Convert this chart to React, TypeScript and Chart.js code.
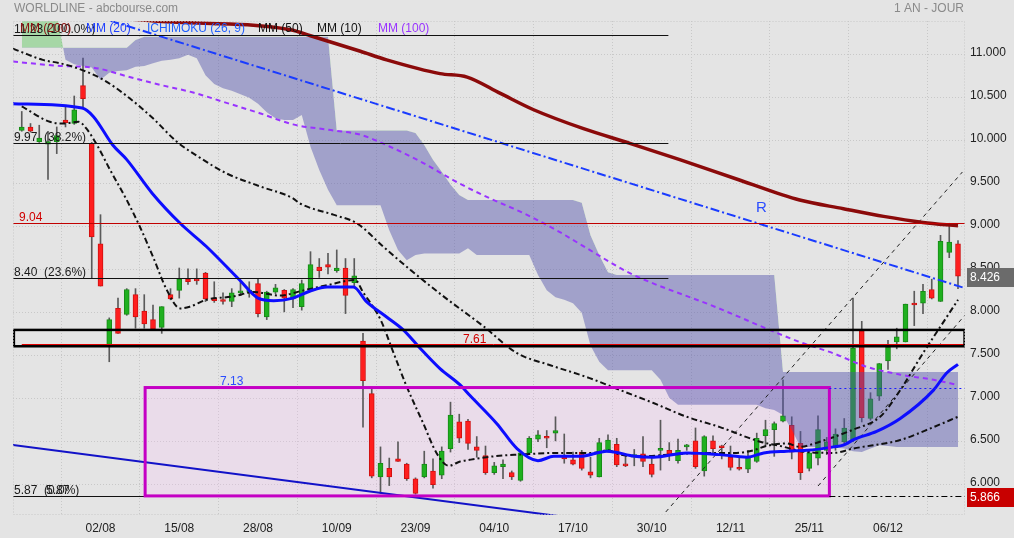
import { useEffect, useRef } from 'react';
import { Chart, registerables } from 'chart.js';

Chart.register(...registerables);

// ---------- candles (trading days, index 0 = 22/07) ----------
const OPEN = [10.12, 10.16, 9.99, 9.96, 9.99, 10.24, 10.20, 10.64, 9.97, 8.80,
  7.62, 8.05, 7.98, 8.21, 8.02, 7.92, 7.83, 8.21, 8.26, 8.39,
  8.39, 8.46, 8.17, 8.15, 8.13, 8.23, 8.24, 8.34, 7.95, 8.24,
  8.26, 8.17, 8.07, 8.27, 8.53, 8.56, 8.49, 8.52, 8.35, 7.67,
  7.06, 6.09, 6.19, 6.30, 6.24, 6.07, 6.09, 6.16, 6.11, 6.42,
  6.73, 6.74, 6.44, 6.34, 6.14, 6.21, 6.14, 6.05, 6.37, 6.53,
  6.56, 6.60, 6.33, 6.29, 6.38, 6.15, 6.09, 6.40, 6.47, 6.23,
  6.32, 6.36, 6.24, 6.40, 6.40, 6.28, 6.44, 6.51, 6.16, 6.51,
  6.45, 6.32, 6.20, 6.18, 6.27, 6.57, 6.64, 6.74, 6.69, 6.48,
  6.19, 6.31, 6.40, 6.43, 6.50, 6.52, 7.79, 6.77, 7.03, 7.44,
  7.66, 7.66, 8.11, 8.11, 8.27, 8.13, 8.70, 8.80];
const HIGH = [10.34, 10.20, 10.18, 10.11, 10.16, 10.40, 10.52, 10.96, 9.98, 9.14,
  7.94, 8.17, 8.28, 8.28, 8.21, 8.09, 8.07, 8.28, 8.52, 8.51,
  8.51, 8.47, 8.36, 8.23, 8.28, 8.36, 8.36, 8.40, 8.25, 8.33,
  8.27, 8.28, 8.38, 8.71, 8.63, 8.69, 8.73, 8.63, 8.63, 7.76,
  7.11, 6.44, 6.31, 6.50, 6.25, 6.08, 6.39, 6.30, 6.44, 6.96,
  6.82, 6.76, 6.56, 6.45, 6.26, 6.29, 6.16, 6.37, 6.56, 6.63,
  6.63, 6.79, 6.59, 6.38, 6.40, 6.32, 6.54, 6.58, 6.54, 6.34,
  6.41, 6.56, 6.32, 6.75, 6.49, 6.53, 6.47, 6.66, 6.57, 6.57,
  6.46, 6.45, 6.32, 6.40, 6.60, 6.75, 6.73, 7.22, 6.79, 6.62,
  6.40, 6.80, 6.55, 6.65, 6.77, 8.17, 7.90, 7.07, 7.41, 7.68,
  7.82, 8.10, 8.25, 8.33, 8.39, 8.90, 9.04, 8.84];
const LOW = [10.11, 10.10, 9.98, 9.55, 9.85, 10.16, 10.19, 10.38, 8.40, 8.31,
  7.43, 7.76, 7.97, 7.82, 7.82, 7.80, 7.76, 8.15, 8.17, 8.33,
  8.33, 8.13, 8.12, 8.10, 8.07, 8.20, 8.18, 7.95, 7.92, 8.22,
  8.01, 8.06, 8.03, 8.26, 8.41, 8.45, 8.47, 7.99, 8.30, 6.67,
  6.08, 5.90, 5.99, 6.27, 6.05, 5.89, 6.08, 5.96, 6.07, 6.38,
  6.49, 6.41, 6.32, 6.12, 6.12, 6.07, 6.06, 6.04, 6.36, 6.50,
  6.43, 6.51, 6.25, 6.23, 6.17, 6.08, 6.09, 6.38, 6.21, 6.21,
  6.22, 6.21, 6.09, 6.17, 6.28, 6.25, 6.40, 6.19, 6.10, 6.37,
  6.30, 6.17, 6.17, 6.14, 6.26, 6.45, 6.33, 6.73, 6.30, 6.06,
  6.16, 6.23, 6.35, 6.40, 6.48, 6.50, 6.73, 6.75, 6.98, 7.34,
  7.58, 7.66, 7.85, 7.99, 8.16, 8.13, 8.64, 8.28];
const CLOSE = [10.16, 10.11, 10.03, 9.99, 10.06, 10.21, 10.36, 10.49, 8.88, 8.31,
  7.92, 7.76, 8.27, 7.95, 7.87, 7.81, 8.07, 8.16, 8.39, 8.36,
  8.37, 8.16, 8.14, 8.13, 8.23, 8.25, 8.26, 7.99, 8.24, 8.29,
  8.17, 8.27, 8.34, 8.56, 8.49, 8.53, 8.52, 8.20, 8.43, 7.21,
  6.10, 6.25, 6.09, 6.27, 6.07, 5.90, 6.24, 6.00, 6.39, 6.81,
  6.54, 6.48, 6.40, 6.14, 6.22, 6.24, 6.09, 6.37, 6.54, 6.58,
  6.54, 6.63, 6.30, 6.24, 6.19, 6.11, 6.49, 6.52, 6.23, 6.22,
  6.35, 6.27, 6.12, 6.42, 6.35, 6.40, 6.46, 6.21, 6.56, 6.42,
  6.43, 6.20, 6.18, 6.32, 6.54, 6.64, 6.71, 6.80, 6.38, 6.14,
  6.37, 6.64, 6.50, 6.59, 6.66, 7.59, 6.78, 7.00, 7.41, 7.60,
  7.72, 8.10, 8.09, 8.25, 8.17, 8.83, 8.82, 8.426];

// ---------- Ichimoku cloud (senkou spans, per day) ----------
const SPAN_A = [11.75, 11.75, 11.72, 11.65, 11.46, 10.94, 10.89, 10.87, 10.85, 10.71,
  10.79, 10.81, 10.82, 10.86, 10.87, 10.90, 10.93, 10.94, 10.96, 11.00,
  10.96, 10.76, 10.66, 10.61, 10.58, 10.54, 10.50, 10.43, 10.33, 10.26,
  10.24, 10.24, 10.30, 9.93, 9.66, 9.43, 9.25, 9.25, 9.25, 9.25,
  9.25, 9.25, 8.96, 8.73, 8.61, 8.67, 8.69, 8.69, 8.69, 8.69,
  8.69, 8.75, 8.67, 8.67, 8.67, 8.67, 8.67, 8.67, 8.67, 8.44,
  8.26, 8.18, 8.15, 8.11, 8.00, 7.62, 7.43, 7.33, 7.33, 7.33,
  7.33, 7.33, 7.33, 7.22, 7.01, 6.93, 6.93, 6.93, 6.93, 6.93,
  6.93, 6.93, 6.93, 6.93, 6.93, 6.89, 6.87, 6.81, 6.64, 6.44,
  6.44, 6.44, 6.43, 6.43, 6.42, 6.39, 6.38, 6.42, 6.46, 6.45,
  6.44, 6.44, 6.44, 6.44, 6.44, 6.44, 6.44, 6.44];
const SPAN_B = [11.08, 11.08, 11.08, 11.08, 11.08, 11.08, 11.08, 11.08, 11.08, 11.08,
  11.08, 11.08, 11.08, 11.17, 11.21, 11.21, 11.21, 11.21, 11.21, 11.21,
  11.21, 11.21, 11.21, 11.21, 11.21, 11.21, 11.21, 11.21, 11.21, 11.21,
  11.21, 11.21, 11.21, 11.21, 11.21, 11.21, 10.12, 10.12, 10.12, 10.12,
  10.12, 10.12, 10.12, 10.12, 10.12, 10.09, 9.95, 9.78, 9.64, 9.49,
  9.37, 9.31, 9.31, 9.31, 9.31, 9.31, 9.31, 9.31, 9.31, 9.31,
  9.31, 9.31, 9.31, 9.31, 9.28, 8.90, 8.67, 8.47, 8.44, 8.44,
  8.44, 8.44, 8.44, 8.44, 8.44, 8.44, 8.44, 8.44, 8.44, 8.44,
  8.44, 8.44, 8.44, 8.44, 8.44, 8.44, 8.44, 7.31, 7.31, 7.31,
  7.31, 7.31, 7.31, 7.31, 7.31, 7.31, 7.31, 7.31, 7.31, 7.31,
  7.31, 7.31, 7.31, 7.31, 7.31, 7.31, 7.31, 7.31];

// ---------- moving averages (day index / value) ----------
const MM20_X = [-1, 6.9, 8.2, 10.4, 12, 14.9, 18.1, 21.1, 24.9, 27, 28.8, 31, 32.9, 34.9, 37.9, 39.4, 41.7, 43.6, 45.5, 47.8, 50.1, 51.2, 54.3, 56.6, 59, 60.8, 63.8, 66.9, 70.1, 72.2, 76, 79.8, 82.9, 84.8, 87.4, 89.7, 92.8, 93.9, 95.2, 97.7, 100.4, 104.2, 105.7, 107];
const MM20_Y = [10.43, 10.38, 10.28, 9.95, 9.78, 9.39, 9.04, 8.77, 8.38, 8.17, 8.14, 8.17, 8.25, 8.30, 8.30, 8.13, 7.95, 7.80, 7.59, 7.35, 7.16, 7.04, 6.71, 6.42, 6.28, 6.33, 6.33, 6.39, 6.33, 6.32, 6.37, 6.35, 6.32, 6.37, 6.39, 6.40, 6.44, 6.46, 6.53, 6.62, 6.77, 7.10, 7.30, 7.40];
const MM10_X = [0, 3.2, 4.8, 6.5, 7.4, 8.6, 10.1, 12, 13.5, 15, 16.6, 18.1, 19.2, 21.1, 24.2, 26.5, 29.5, 32.2, 34.9, 38.1, 39, 41, 42.5, 44, 45.9, 47.4, 48.8, 50.1, 51.2, 53.1, 55, 56.9, 60.8, 65.3, 66.9, 68.4, 70.7, 74.1, 77.9, 81.7, 83.6, 85.1, 87.4, 88.9, 91.2, 95, 98.1, 100.4, 103, 105, 107];
const MM10_Y = [10.40, 10.22, 10.20, 10.22, 10.14, 9.95, 9.66, 9.31, 9.00, 8.65, 8.26, 8.05, 8.07, 8.15, 8.19, 8.24, 8.20, 8.26, 8.32, 8.38, 8.24, 7.92, 7.53, 7.14, 6.71, 6.37, 6.22, 6.27, 6.29, 6.32, 6.34, 6.35, 6.37, 6.37, 6.40, 6.35, 6.33, 6.35, 6.37, 6.37, 6.40, 6.45, 6.48, 6.44, 6.50, 6.64, 6.79, 7.10, 7.53, 7.84, 8.15];
const MM50_X = [-1, 0, 2.4, 4.4, 6.7, 9.3, 12, 15, 17.7, 20.4, 23.4, 27.2, 31, 31.8, 35.6, 38.3, 41.3, 44.4, 48.2, 52.8, 56.6, 60.4, 64.9, 68.4, 72.2, 76, 79.8, 84.4, 86.7, 89.7, 92.8, 95, 100.4, 104.2, 107];
const MM50_Y = [11.07, 11.03, 10.94, 10.90, 10.83, 10.71, 10.52, 10.26, 9.99, 9.80, 9.62, 9.47, 9.33, 9.27, 9.14, 9.04, 8.77, 8.50, 8.19, 7.84, 7.53, 7.39, 7.24, 7.10, 6.95, 6.79, 6.67, 6.50, 6.45, 6.38, 6.37, 6.42, 6.52, 6.67, 6.79];
const MM100_X = [-1, 4.4, 8.2, 12, 15.8, 19.6, 23.4, 27.2, 31, 35.6, 38.7, 42.1, 45.9, 49.7, 53.5, 57.3, 61.1, 64.9, 69.5, 79.2, 88.9, 92.7, 96.6, 100.4, 104.2, 107];
const MM100_Y = [10.92, 10.87, 10.85, 10.75, 10.65, 10.56, 10.44, 10.32, 10.19, 10.12, 10.07, 9.93, 9.74, 9.52, 9.33, 9.16, 8.96, 8.73, 8.46, 8.07, 7.66, 7.53, 7.37, 7.28, 7.22, 7.16];
const MM200_X = [-1, 15.5, 30.7, 33, 38.7, 41.7, 47.8, 50.9, 54.7, 58.5, 64.2, 69.5, 75.2, 82.1, 88.9, 93.9, 98.5, 103, 107];
const MM200_Y = [11.53, 11.39, 11.29, 11.22, 11.04, 10.94, 10.78, 10.74, 10.55, 10.36, 10.14, 9.97, 9.78, 9.54, 9.31, 9.21, 9.12, 9.05, 9.01];

// ---------- drawn tools (day index / price) ----------
const R_LINE_X = [-1, 107.8];
const R_LINE_Y = [11.75, 8.286];
const SUPPORT_X = [-1, 107.8];
const SUPPORT_Y = [6.462, 5.02];
const CHAN_A_X = [73.6, 107.5];
const CHAN_A_Y = [5.683, 9.636];
const CHAN_B_X = [91.0, 107.8];
const CHAN_B_Y = [5.985, 7.973];

const FIB_LEVELS = [11.23, 9.97, 8.40, 5.87];
const FIB_LABELS = ['11.23 (100.0%)', '9.97  (38.2%)', '8.40  (23.6%)', '5.87  (0.0%)'];
const FIB_SPAN = [-1, 73.9];
const LEVEL_904 = 9.04;
const LEVEL_761 = 7.635;
const ZONE_Y = [7.61, 7.80];
const ZONE_X = [-0.9, 107.75];
const BOX_X = [14.1, 92.3];
const BOX_Y = [5.87, 7.13];
const LAST_PRICE = 8.426;
const SUPPORT_PRICE = 5.866;

const DATE_IDX = [9, 18, 27, 36, 45, 54, 63, 72, 81, 90, 99];
const DATE_LABELS = ['02/08', '15/08', '28/08', '10/09', '23/09', '04/10', '17/10', '30/10', '12/11', '25/11', '06/12'];
const Y_TICKS = [6, 6.5, 7, 7.5, 8, 8.5, 9, 9.5, 10, 10.5, 11];
const X_RANGE = [-1.0, 107.8];
const Y_RANGE = [5.648, 11.392];

const LEGEND_LABELS = ['MM (200)', 'MM (20)', 'ICHIMOKU (26, 9)', 'MM (50)', 'MM (10)', 'MM (100)'];

const FONT = '"Liberation Sans", Arial, sans-serif';
const BG = '#e4e4e4';
const GRID = '#c8c8c8';

const pts = (xs: number[], ys: number[]) => xs.map((x, k) => ({ x, y: ys[k] }));
const IDX = OPEN.map((_, i) => i);

const overlay = {
  id: 'overlay',
  beforeDraw(chart: any) {
    const { ctx, width, height } = chart;
    ctx.save();
    ctx.fillStyle = BG;
    ctx.fillRect(0, 0, width, height);
    ctx.restore();
  },
  beforeDatasetsDraw(chart: any) {
    const { ctx } = chart;
    const x = chart.scales.x, y = chart.scales.y;
    const x0 = x.getPixelForValue(BOX_X[0]), x1 = x.getPixelForValue(BOX_X[1]);
    const y0 = y.getPixelForValue(BOX_Y[1]), y1 = y.getPixelForValue(BOX_Y[0]);
    ctx.save();
    ctx.fillStyle = 'rgba(255,190,255,0.22)';
    ctx.fillRect(x0, y0, x1 - x0, y1 - y0);
    ctx.restore();
  },
  afterDatasetsDraw(chart: any) {
    const { ctx, chartArea } = chart;
    const x = chart.scales.x, y = chart.scales.y;
    const snap = (v: number) => Math.round(v) + 0.5;
    const hline = (v: number, a: number, b: number, color: string, w: number, dash: number[]) => {
      const py = w % 2 === 1 ? snap(y.getPixelForValue(v)) : Math.round(y.getPixelForValue(v));
      ctx.beginPath();
      ctx.strokeStyle = color;
      ctx.lineWidth = w;
      ctx.setLineDash(dash);
      ctx.moveTo(x.getPixelForValue(a), py);
      ctx.lineTo(x.getPixelForValue(b), py);
      ctx.stroke();
    };
    ctx.save();
    ctx.beginPath();
    ctx.rect(chartArea.left, chartArea.top, chartArea.right - chartArea.left, chartArea.bottom - chartArea.top);
    ctx.clip();
    FIB_LEVELS.forEach((lv) => hline(lv, FIB_SPAN[0], FIB_SPAN[1], '#111', 1, []));
    hline(LEVEL_904, X_RANGE[0], X_RANGE[1], '#c00000', 1, []);
    hline(LEVEL_761, 0, X_RANGE[1], '#e00000', 1, []);
    // black zone rectangle
    const zx0 = x.getPixelForValue(ZONE_X[0]), zx1 = x.getPixelForValue(ZONE_X[1]);
    const zy0 = y.getPixelForValue(ZONE_Y[1]), zy1 = y.getPixelForValue(ZONE_Y[0]);
    ctx.setLineDash([]);
    ctx.strokeStyle = '#000';
    ctx.lineWidth = 2.5;
    ctx.strokeRect(zx0, zy0, zx1 - zx0, zy1 - zy0);
    // magenta box border
    const bx0 = x.getPixelForValue(BOX_X[0]), bx1 = x.getPixelForValue(BOX_X[1]);
    const by0 = y.getPixelForValue(BOX_Y[1]), by1 = y.getPixelForValue(BOX_Y[0]);
    ctx.strokeStyle = '#c400c4';
    ctx.lineWidth = 3;
    ctx.strokeRect(bx0, by0, bx1 - bx0, by1 - by0);
    hline(BOX_Y[1], BOX_X[1], X_RANGE[1], '#1a1aff', 1, [2, 3]);
    hline(SUPPORT_PRICE, BOX_X[1], X_RANGE[1], '#000', 1, [6, 3, 2, 3]);
    ctx.restore();
  },
  afterDraw(chart: any) {
    const { ctx, chartArea } = chart;
    const y = chart.scales.y;
    ctx.save();
    // chart area dotted frame
    ctx.strokeStyle = GRID;
    ctx.lineWidth = 1;
    ctx.setLineDash([1, 2]);
    ctx.strokeRect(chartArea.left + 0.5, chartArea.top + 0.5, chartArea.right - chartArea.left - 1, chartArea.bottom - chartArea.top - 1);
    ctx.setLineDash([]);

    ctx.textBaseline = 'middle';
    ctx.font = `12px ${FONT}`;
    ctx.fillStyle = '#8a8a8a';
    ctx.textAlign = 'left';
    ctx.fillText('WORLDLINE - abcbourse.com', 14, 9);
    ctx.textAlign = 'right';
    ctx.fillText('1 AN - JOUR', 964, 9);

    // fib labels
    ctx.textAlign = 'left';
    ctx.textBaseline = 'alphabetic';
    ctx.fillStyle = '#1a1a1a';
    FIB_LEVELS.forEach((lv, k) => {
      ctx.fillText(FIB_LABELS[k], 14, y.getPixelForValue(lv) - 2);
    });
    ctx.fillText('5.87', 46, y.getPixelForValue(FIB_LEVELS[3]) - 2);

    // legend
    const legX = [20, 86, 147, 258, 317, 378];
    const legC = ['#8b1010', '#1f3fff', '#1f5fff', '#111', '#111', '#9933ff'];
    ctx.textBaseline = 'middle';
    LEGEND_LABELS.forEach((t, k) => {
      ctx.fillStyle = legC[k];
      ctx.fillText(t, legX[k], 29);
    });

    ctx.textBaseline = 'alphabetic';
    ctx.fillStyle = '#d00000';
    ctx.fillText(LEVEL_904.toFixed(2), 19, y.getPixelForValue(LEVEL_904) - 2);
    ctx.fillText('7.61', 463, y.getPixelForValue(LEVEL_761) - 1);
    ctx.fillStyle = '#2a4cff';
    ctx.fillText(BOX_Y[1].toFixed(2), 220, y.getPixelForValue(BOX_Y[1]) - 3);
    ctx.font = `15px ${FONT}`;
    ctx.fillText('R', 756, 212);

    // price boxes
    ctx.font = `12px ${FONT}`;
    ctx.textBaseline = 'middle';
    const box = (v: number, bg: string) => {
      const py = y.getPixelForValue(v) + 1.4;
      ctx.fillStyle = bg;
      ctx.fillRect(967, Math.round(py - 9.5), 47, 19);
      ctx.fillStyle = '#fff';
      ctx.fillText(v.toFixed(3), 970, py);
    };
    box(LAST_PRICE, '#6b6b6b');
    box(SUPPORT_PRICE, '#c80000');
    ctx.restore();
  },
};

export default function App() {
  const ref = useRef<HTMLCanvasElement>(null);
  useEffect(() => {
    const up = IDX.map((i) => CLOSE[i] >= OPEN[i]);
    const lineBase = { type: 'line', pointRadius: 0, fill: false, cubicInterpolationMode: 'monotone' };
    const chart = new Chart(ref.current as HTMLCanvasElement, {
      type: 'line',
      data: {
        datasets: [
          { ...lineBase, label: 'MM (20)', data: pts(MM20_X, MM20_Y), borderColor: '#0d0dff', borderWidth: 3, order: 1 },
          { ...lineBase, label: 'MM (10)', data: pts(MM10_X, MM10_Y), borderColor: '#111', borderWidth: 2, borderDash: [6, 3, 2, 3], order: 2 },
          { ...lineBase, label: 'MM (50)', data: pts(MM50_X, MM50_Y), borderColor: '#111', borderWidth: 2, borderDash: [6, 3, 2, 3], order: 3 },
          { ...lineBase, label: 'MM (100)', data: pts(MM100_X, MM100_Y), borderColor: '#9933ff', borderWidth: 2, borderDash: [5, 4], order: 4 },
          { ...lineBase, label: 'MM (200)', data: pts(MM200_X, MM200_Y), borderColor: '#8b0a0a', borderWidth: 3.5, order: 5 },
          { ...lineBase, label: 'R', data: pts(R_LINE_X, R_LINE_Y), borderColor: '#1a3cff', borderWidth: 2, borderDash: [9, 3, 2, 3], order: 6 },
          { ...lineBase, label: 'support', data: pts(SUPPORT_X, SUPPORT_Y), borderColor: '#1212c8', borderWidth: 2, order: 7 },
          { ...lineBase, label: 'canal A', data: pts(CHAN_A_X, CHAN_A_Y), borderColor: '#222', borderWidth: 1, borderDash: [4, 4], order: 8 },
          { ...lineBase, label: 'canal B', data: pts(CHAN_B_X, CHAN_B_Y), borderColor: '#222', borderWidth: 1, borderDash: [4, 4], order: 9 },
          {
            type: 'line', label: 'SSA', data: pts(IDX, SPAN_A), pointRadius: 0, borderWidth: 0, tension: 0,
            fill: { target: '+1', above: 'rgba(90,200,90,0.45)', below: 'rgba(80,80,170,0.45)' }, order: 10,
          },
          { type: 'line', label: 'SSB', data: pts(IDX, SPAN_B), pointRadius: 0, borderWidth: 0, tension: 0, fill: false, order: 11 },
          {
            type: 'bar', label: 'corps', data: IDX.map((i) => ({ x: i, y: [OPEN[i], CLOSE[i]] })),
            backgroundColor: up.map((u) => (u ? '#1fb01f' : '#ff1e1e')),
            borderColor: up.map((u) => (u ? '#178a17' : '#d01010')),
            borderWidth: 1, borderSkipped: false, barThickness: 5, grouped: false, minBarLength: 2, order: 12,
          },
          {
            type: 'bar', label: 'meches', data: IDX.map((i) => ({ x: i, y: [LOW[i], HIGH[i]] })),
            backgroundColor: '#5a5a5a', borderWidth: 0, barThickness: 1, grouped: false, order: 13,
          },
        ] as any,
      },
      options: {
        responsive: false,
        devicePixelRatio: 1,
        animation: false,
        events: [],
        layout: { padding: { left: 13, top: 21, right: 0, bottom: 0 } },
        plugins: { legend: { display: false }, tooltip: { enabled: false }, title: { display: false } },
        scales: {
          x: {
            type: 'linear', min: X_RANGE[0], max: X_RANGE[1], offset: false,
            afterBuildTicks: (s: any) => { s.ticks = DATE_IDX.map((v) => ({ value: v })); },
            afterFit: (s: any) => { s.height = 23; },
            ticks: {
              autoSkip: false, maxRotation: 0, padding: 6, color: '#222',
              font: { family: FONT, size: 12 },
              callback: (v: any) => { const k = DATE_IDX.indexOf(v); return k >= 0 ? DATE_LABELS[k] : ''; },
            },
            grid: { color: GRID, drawTicks: false },
            border: { display: false, dash: [1, 2] },
          },
          y: {
            type: 'linear', position: 'right', min: Y_RANGE[0], max: Y_RANGE[1],
            afterBuildTicks: (s: any) => { s.ticks = Y_TICKS.map((v) => ({ value: v })); },
            afterFit: (s: any) => { s.width = 49; },
            ticks: {
              autoSkip: false, padding: 5, labelOffset: -2, color: '#222',
              font: { family: FONT, size: 12 },
              callback: (v: any) => Number(v).toFixed(3),
            },
            grid: { color: GRID, drawTicks: false },
            border: { display: false, dash: [1, 2] },
          },
        },
      } as any,
      plugins: [overlay],
    } as any);
    return () => chart.destroy();
  }, []);
  return (
    <div style={{ position: 'fixed', left: 0, top: 0, width: 1014, height: 538 }}>
      <canvas ref={ref} width={1014} height={538} style={{ display: 'block', width: 1014, height: 538 }} />
    </div>
  );
}
